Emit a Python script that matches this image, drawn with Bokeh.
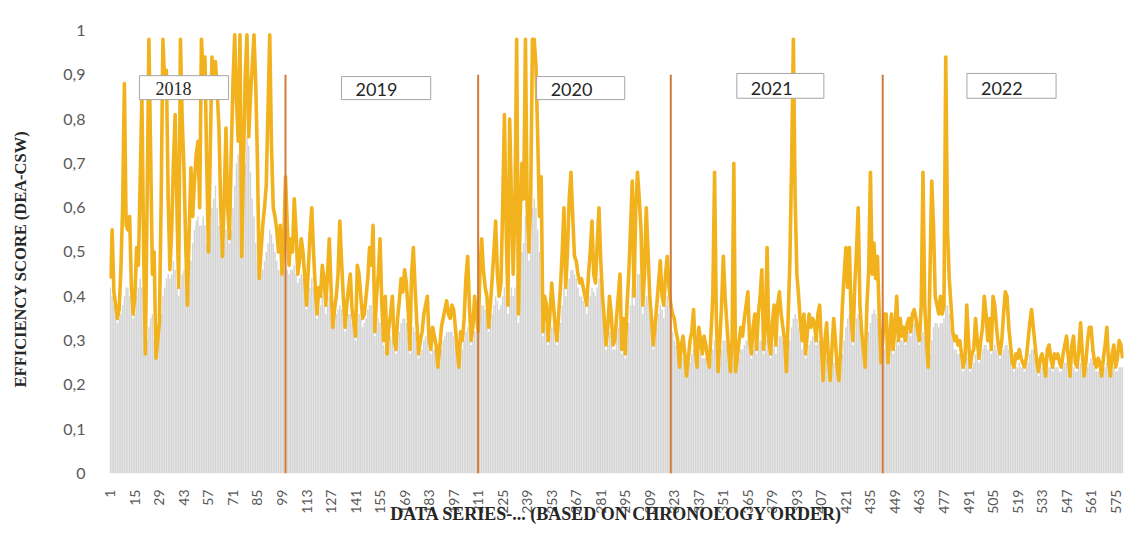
from bokeh.plotting import figure
from bokeh.layouts import row
from bokeh.models import ColumnDataSource, FixedTicker, CustomJSTickFormatter, Range1d
from bokeh.core.properties import value
from bokeh.embed import file_html
from bokeh.resources import INLINE
import math

# DEA-CSW efficiency score for each observation, in chronological order
efficiency_score = [
    0.44, 0.55, 0.41, 0.38, 0.35, 0.37, 0.46, 0.60, 0.88, 0.56,
    0.55, 0.58, 0.42, 0.36, 0.40, 0.51, 0.47, 0.66, 0.85, 0.50,
    0.27, 0.62, 0.98, 0.72, 0.45, 0.50, 0.26, 0.30, 0.34, 0.62,
    0.98, 0.88, 0.91, 0.62, 0.46, 0.55, 0.70, 0.81, 0.60, 0.42,
    0.98, 0.80, 0.69, 0.52, 0.38, 0.55, 0.69, 0.58, 0.66, 0.72,
    0.75, 0.60, 0.98, 0.90, 0.94, 0.70, 0.50, 0.72, 0.94, 0.88,
    0.93, 0.86, 0.78, 0.60, 0.49, 0.62, 0.78, 0.60, 0.53, 0.72,
    0.88, 0.99, 0.84, 0.75, 0.99, 0.49, 0.70, 0.90, 0.99, 0.76,
    0.85, 0.92, 0.99, 0.88, 0.70, 0.44, 0.50, 0.56, 0.60, 0.65,
    0.82, 0.99, 0.74, 0.60, 0.58, 0.55, 0.50, 0.56, 0.45, 0.52,
    0.67, 0.56, 0.47, 0.53, 0.50, 0.62, 0.55, 0.45, 0.48, 0.53,
    0.50, 0.44, 0.38, 0.46, 0.54, 0.60, 0.50, 0.42, 0.36, 0.42,
    0.40, 0.47, 0.44, 0.38, 0.45, 0.53, 0.42, 0.33, 0.37, 0.40,
    0.45, 0.57, 0.48, 0.40, 0.33, 0.38, 0.42, 0.45, 0.37, 0.34,
    0.31, 0.47, 0.45, 0.40, 0.35, 0.36, 0.40, 0.44, 0.51, 0.47,
    0.56, 0.32, 0.40, 0.45, 0.53, 0.38, 0.30, 0.40, 0.27, 0.33,
    0.36, 0.40, 0.30, 0.28, 0.35, 0.39, 0.44, 0.41, 0.46, 0.43,
    0.37, 0.28, 0.45, 0.51, 0.42, 0.34, 0.27, 0.30, 0.32, 0.36,
    0.38, 0.40, 0.30, 0.28, 0.33, 0.31, 0.29, 0.24, 0.28, 0.33,
    0.35, 0.37, 0.39, 0.36, 0.35, 0.38, 0.37, 0.33, 0.28, 0.24,
    0.32, 0.30, 0.35, 0.44, 0.49, 0.38, 0.30, 0.33, 0.40, 0.36,
    0.32, 0.45, 0.53, 0.46, 0.42, 0.40, 0.33, 0.38, 0.44, 0.50,
    0.57, 0.45, 0.40, 0.43, 0.60, 0.81, 0.55, 0.38, 0.80, 0.62,
    0.45, 0.60, 0.98, 0.36, 0.58, 0.70, 0.62, 0.98, 0.60, 0.50,
    0.62, 0.98, 0.98, 0.92, 0.76, 0.58, 0.67, 0.32, 0.40, 0.38,
    0.30, 0.36, 0.43, 0.38, 0.33, 0.30, 0.36, 0.42, 0.50, 0.60,
    0.42, 0.50, 0.62, 0.68, 0.58, 0.49, 0.48, 0.45, 0.43, 0.44,
    0.42, 0.40, 0.38, 0.45, 0.50, 0.57, 0.45, 0.43, 0.52, 0.60,
    0.48, 0.40, 0.35, 0.29, 0.33, 0.40, 0.36, 0.29, 0.30, 0.35,
    0.40, 0.45, 0.28, 0.35, 0.27, 0.38, 0.45, 0.55, 0.66, 0.40,
    0.60, 0.68, 0.62, 0.55, 0.38, 0.45, 0.60, 0.50, 0.40, 0.35,
    0.29, 0.33, 0.38, 0.43, 0.48, 0.40, 0.38, 0.45, 0.49, 0.42,
    0.38, 0.36, 0.35, 0.32, 0.30, 0.24, 0.29, 0.31, 0.27, 0.22,
    0.26, 0.30, 0.32, 0.37, 0.28, 0.24, 0.33, 0.30, 0.27, 0.31,
    0.29, 0.26, 0.24, 0.32, 0.40, 0.68, 0.35, 0.23, 0.30, 0.38,
    0.49, 0.40, 0.34, 0.28, 0.23, 0.30, 0.70, 0.23, 0.26, 0.30,
    0.33, 0.31, 0.35, 0.38, 0.41, 0.30, 0.27, 0.33, 0.36, 0.28,
    0.36, 0.40, 0.46, 0.28, 0.33, 0.51, 0.30, 0.27, 0.34, 0.38,
    0.29, 0.38, 0.41, 0.36, 0.33, 0.30, 0.23, 0.35, 0.48, 0.70,
    0.98, 0.62, 0.45, 0.40, 0.34, 0.30, 0.36, 0.27, 0.32, 0.36,
    0.33, 0.35, 0.34, 0.30, 0.36, 0.38, 0.29, 0.21, 0.30, 0.34,
    0.26, 0.21, 0.28, 0.35, 0.30, 0.24, 0.21, 0.28, 0.38, 0.45,
    0.51, 0.42, 0.51, 0.35, 0.30, 0.42, 0.50, 0.60, 0.38, 0.32,
    0.28, 0.24, 0.38, 0.46, 0.68, 0.45, 0.52, 0.44, 0.49, 0.36,
    0.25, 0.30, 0.36, 0.36, 0.25, 0.30, 0.36, 0.28, 0.33, 0.40,
    0.30, 0.35, 0.31, 0.33, 0.30, 0.34, 0.35, 0.32, 0.36, 0.37,
    0.35, 0.32, 0.30, 0.38, 0.68, 0.38, 0.30, 0.24, 0.45, 0.66,
    0.56, 0.40, 0.38, 0.36, 0.40, 0.36, 0.38, 0.94, 0.55, 0.44,
    0.38, 0.32, 0.30, 0.31, 0.29, 0.30, 0.27, 0.24, 0.26, 0.38,
    0.30, 0.24, 0.27, 0.28, 0.35, 0.30, 0.26, 0.30, 0.33, 0.40,
    0.36, 0.30, 0.35, 0.28, 0.40, 0.38, 0.33, 0.29, 0.27, 0.30,
    0.36, 0.41, 0.40, 0.33, 0.29, 0.25, 0.24, 0.27, 0.26, 0.28,
    0.26, 0.25, 0.24, 0.26, 0.30, 0.34, 0.37, 0.33, 0.29, 0.25,
    0.23, 0.26, 0.27, 0.25, 0.22, 0.28, 0.29, 0.26, 0.24, 0.27,
    0.26, 0.27, 0.25, 0.24, 0.27, 0.29, 0.31, 0.26, 0.22, 0.29,
    0.31, 0.25, 0.24, 0.28, 0.34, 0.27, 0.22, 0.25, 0.30, 0.33,
    0.33, 0.28, 0.25, 0.24, 0.26, 0.25, 0.22, 0.26, 0.29, 0.33,
    0.25, 0.22, 0.27, 0.29, 0.24, 0.26, 0.30, 0.29, 0.26,
]

# Lower-bound score shown as grey columns behind the line
base_score = [
    0.42, 0.40, 0.38, 0.36, 0.34, 0.35, 0.36, 0.38, 0.40, 0.42,
    0.42, 0.40, 0.38, 0.35, 0.36, 0.40, 0.42, 0.44, 0.42, 0.38,
    0.27, 0.30, 0.33, 0.35, 0.36, 0.30, 0.26, 0.28, 0.32, 0.36,
    0.40, 0.42, 0.44, 0.45, 0.44, 0.45, 0.48, 0.46, 0.42, 0.40,
    0.42, 0.45, 0.46, 0.42, 0.38, 0.42, 0.48, 0.52, 0.55, 0.57,
    0.58, 0.56, 0.56, 0.58, 0.56, 0.52, 0.50, 0.55, 0.60, 0.62,
    0.65, 0.60, 0.56, 0.52, 0.49, 0.52, 0.55, 0.54, 0.52, 0.55,
    0.60, 0.65, 0.70, 0.72, 0.75, 0.49, 0.62, 0.70, 0.76, 0.74,
    0.68, 0.62, 0.58, 0.52, 0.48, 0.44, 0.45, 0.46, 0.48, 0.50,
    0.52, 0.55, 0.54, 0.52, 0.50, 0.48, 0.46, 0.46, 0.45, 0.46,
    0.47, 0.46, 0.45, 0.46, 0.46, 0.47, 0.45, 0.43, 0.44, 0.45,
    0.44, 0.41, 0.37, 0.40, 0.42, 0.44, 0.42, 0.39, 0.35, 0.37,
    0.38, 0.40, 0.38, 0.36, 0.38, 0.40, 0.36, 0.33, 0.34, 0.36,
    0.37, 0.38, 0.37, 0.35, 0.32, 0.34, 0.36, 0.36, 0.34, 0.32,
    0.30, 0.33, 0.36, 0.35, 0.33, 0.34, 0.35, 0.37, 0.38, 0.38,
    0.36, 0.31, 0.33, 0.35, 0.34, 0.32, 0.29, 0.28, 0.27, 0.29,
    0.31, 0.30, 0.28, 0.27, 0.30, 0.32, 0.34, 0.35, 0.35, 0.34,
    0.31, 0.27, 0.30, 0.33, 0.32, 0.29, 0.26, 0.27, 0.28, 0.30,
    0.31, 0.31, 0.28, 0.27, 0.28, 0.28, 0.26, 0.24, 0.25, 0.28,
    0.30, 0.31, 0.32, 0.32, 0.32, 0.32, 0.31, 0.29, 0.26, 0.24,
    0.27, 0.28, 0.30, 0.32, 0.33, 0.31, 0.29, 0.30, 0.32, 0.32,
    0.31, 0.36, 0.38, 0.38, 0.37, 0.36, 0.32, 0.34, 0.36, 0.38,
    0.40, 0.39, 0.37, 0.38, 0.40, 0.42, 0.40, 0.36, 0.40, 0.42,
    0.40, 0.42, 0.45, 0.34, 0.45, 0.50, 0.52, 0.58, 0.52, 0.48,
    0.52, 0.60, 0.62, 0.60, 0.55, 0.50, 0.45, 0.31, 0.33, 0.33,
    0.29, 0.31, 0.33, 0.33, 0.31, 0.29, 0.31, 0.34, 0.38, 0.42,
    0.40, 0.42, 0.44, 0.46, 0.46, 0.45, 0.44, 0.42, 0.40, 0.40,
    0.39, 0.38, 0.36, 0.38, 0.40, 0.42, 0.41, 0.40, 0.42, 0.44,
    0.42, 0.38, 0.33, 0.28, 0.29, 0.32, 0.32, 0.28, 0.28, 0.31,
    0.33, 0.34, 0.27, 0.28, 0.26, 0.30, 0.34, 0.38, 0.42, 0.38,
    0.42, 0.45, 0.45, 0.43, 0.36, 0.38, 0.40, 0.40, 0.36, 0.33,
    0.28, 0.30, 0.33, 0.36, 0.38, 0.37, 0.35, 0.38, 0.40, 0.38,
    0.34, 0.32, 0.30, 0.29, 0.27, 0.24, 0.25, 0.26, 0.25, 0.22,
    0.23, 0.25, 0.27, 0.28, 0.26, 0.24, 0.26, 0.27, 0.26, 0.26,
    0.26, 0.25, 0.24, 0.26, 0.28, 0.30, 0.28, 0.23, 0.25, 0.28,
    0.30, 0.30, 0.29, 0.26, 0.23, 0.25, 0.28, 0.23, 0.24, 0.26,
    0.28, 0.28, 0.29, 0.30, 0.30, 0.28, 0.26, 0.28, 0.29, 0.27,
    0.29, 0.30, 0.30, 0.27, 0.28, 0.30, 0.28, 0.26, 0.28, 0.29,
    0.27, 0.29, 0.31, 0.31, 0.30, 0.28, 0.23, 0.27, 0.30, 0.33,
    0.35, 0.36, 0.35, 0.33, 0.31, 0.28, 0.29, 0.26, 0.27, 0.29,
    0.30, 0.31, 0.31, 0.29, 0.30, 0.30, 0.27, 0.21, 0.24, 0.26,
    0.24, 0.21, 0.23, 0.25, 0.25, 0.23, 0.21, 0.24, 0.27, 0.30,
    0.33, 0.35, 0.36, 0.33, 0.29, 0.32, 0.35, 0.36, 0.34, 0.30,
    0.27, 0.24, 0.28, 0.32, 0.34, 0.36, 0.37, 0.36, 0.35, 0.32,
    0.25, 0.26, 0.28, 0.29, 0.25, 0.27, 0.29, 0.27, 0.28, 0.30,
    0.29, 0.30, 0.30, 0.31, 0.29, 0.31, 0.32, 0.31, 0.32, 0.34,
    0.34, 0.31, 0.29, 0.31, 0.32, 0.31, 0.28, 0.24, 0.27, 0.30,
    0.33, 0.34, 0.34, 0.33, 0.34, 0.34, 0.35, 0.38, 0.38, 0.36,
    0.33, 0.30, 0.28, 0.28, 0.27, 0.27, 0.25, 0.23, 0.24, 0.26,
    0.26, 0.23, 0.24, 0.25, 0.27, 0.27, 0.25, 0.26, 0.28, 0.29,
    0.29, 0.28, 0.28, 0.27, 0.28, 0.29, 0.28, 0.27, 0.26, 0.27,
    0.28, 0.29, 0.29, 0.28, 0.27, 0.24, 0.23, 0.24, 0.24, 0.25,
    0.24, 0.24, 0.23, 0.24, 0.25, 0.27, 0.28, 0.28, 0.26, 0.24,
    0.22, 0.23, 0.24, 0.23, 0.22, 0.23, 0.24, 0.24, 0.23, 0.24,
    0.24, 0.24, 0.23, 0.23, 0.24, 0.25, 0.25, 0.24, 0.22, 0.23,
    0.24, 0.23, 0.23, 0.24, 0.25, 0.24, 0.22, 0.23, 0.24, 0.25,
    0.26, 0.25, 0.24, 0.23, 0.23, 0.23, 0.22, 0.23, 0.24, 0.25,
    0.23, 0.22, 0.23, 0.24, 0.23, 0.23, 0.24, 0.24, 0.24,
]

observation = list(range(1, len(efficiency_score) + 1))

x_tick_values = [1, 15, 29, 43, 57, 71, 85, 99, 113, 127, 141, 155, 169, 183,
                 197, 211, 225, 239, 253, 267, 281, 295, 309, 323, 337, 351,
                 365, 379, 393, 407, 421, 435, 449, 463, 477, 491, 505, 519,
                 533, 547, 561, 575]
y_tick_values = [0, 0.1, 0.2, 0.3, 0.4, 0.5, 0.6, 0.7, 0.8, 0.9, 1]

years = ["2018", "2019", "2020", "2021", "2022"]
# first observation of each new year (2019 .. 2022)
year_starts = [101, 211, 321, 442]
divider_top = 0.9

y_title = "EFFICIENCY SCORE (DEA-CSW)"
x_title = "DATA SERIES-... (BASED ON CHRONOLOGY ORDER)"

src = ColumnDataSource(dict(obs=observation, score=efficiency_score, base=base_score))

# narrow strip on the left that carries the vertical axis title
TITLE_W = 40
side = figure(width=TITLE_W, height=546, output_backend="svg", toolbar_location=None,
              x_range=Range1d(0, TITLE_W), y_range=Range1d(0, 546),
              x_axis_location=None, y_axis_location=None,
              min_border=0, min_border_left=0, min_border_right=0,
              min_border_top=0, min_border_bottom=0)
side.outline_line_color = None
side.xgrid.visible = False
side.ygrid.visible = False
side.text(x=[20], y=[254], text=[y_title], angle=math.pi / 2,
          text_align="center", text_baseline="middle",
          text_font=value("Liberation Serif"), text_font_style="bold",
          text_font_size="16.5px", text_color="#262626")

p = figure(width=1136 - TITLE_W, height=546, output_backend="svg", toolbar_location=None,
           x_range=Range1d(0.5, 579.5), y_range=Range1d(0, 1.0406),
           min_border_left=109 - TITLE_W, min_border_right=13, min_border_top=12,
           min_border_bottom=73)
p.outline_line_color = None
p.background_fill_color = "white"
p.border_fill_color = "white"
p.xgrid.visible = False
p.ygrid.visible = False

# grey columns
p.vbar(x="obs", top="base", width=0.85, bottom=0, source=src,
       fill_color="#d4d4d4", line_color=None)

# efficiency line
p.line(x="obs", y="score", source=src, line_color="#f1b21e", line_width=3.6,
       line_join="round")

# year dividers
p.segment(x0=year_starts, y0=[0] * len(year_starts), x1=year_starts,
          y1=[divider_top] * len(year_starts), line_color="#d27a38", line_width=2)

# year boxes
box_left = [17.6, 133.0, 244.4, 358.7, 490.1]
box_right = [68.4, 183.9, 294.7, 408.4, 541.0]
box_bottom = [0.844, 0.844, 0.844, 0.847, 0.847]
box_top = [0.898, 0.896, 0.896, 0.903, 0.903]
p.quad(left=box_left, right=box_right, bottom=box_bottom, top=box_top,
       fill_color="white", line_color="#a6a6a6", line_width=1)

text_x = [26.7, 141.0, 252.4, 366.7, 498.1]
text_y = [0.869, 0.866, 0.866, 0.870, 0.870]
p.text(x=text_x[:1], y=text_y[:1], text=years[:1], text_font=value("Liberation Serif"),
       text_font_size="18px", text_color="#262626", text_baseline="alphabetic")
p.text(x=text_x[1:], y=text_y[1:], text=years[1:], text_font=value("Lato"),
       text_font_size="18px", text_color="#262626", text_baseline="alphabetic")

# axes
xa = p.xaxis[0]
xa.ticker = FixedTicker(ticks=x_tick_values)
xa.major_label_orientation = math.pi / 2
xa.major_label_text_font = "Lato"
xa.major_label_text_font_size = "14px"
xa.major_label_text_color = "#595959"
xa.major_label_standoff = 10
xa.major_tick_line_color = None
xa.minor_tick_line_color = None
xa.axis_line_color = None
xa.axis_label = x_title
xa.axis_label_text_font = "Liberation Serif"
xa.axis_label_text_font_style = "bold"
xa.axis_label_text_font_size = "18px"
xa.axis_label_text_color = "#262626"
xa.axis_label_standoff = -13

ya = p.yaxis[0]
ya.ticker = FixedTicker(ticks=y_tick_values)
ya.formatter = CustomJSTickFormatter(code="""
    if (Math.abs(tick - Math.round(tick)) < 1e-9) { return Math.round(tick).toString(); }
    return tick.toFixed(1).replace('.', ',');
""")
ya.major_label_text_font = "Lato"
ya.major_label_text_font_size = "16px"
ya.major_label_text_color = "#595959"
ya.major_label_standoff = 18
ya.major_tick_line_color = None
ya.minor_tick_line_color = None
ya.axis_line_color = None

layout = row(side, p, spacing=0)

open("out.html", "w").write(file_html(layout, INLINE))
